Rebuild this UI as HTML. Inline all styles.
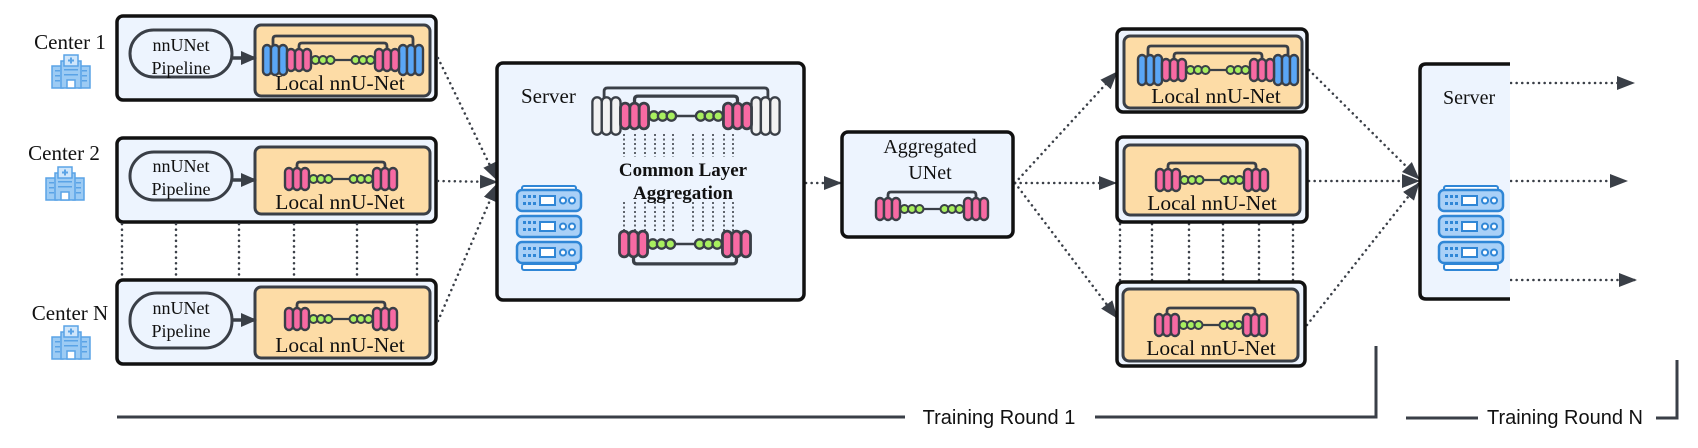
<!DOCTYPE html>
<html><head><meta charset="utf-8"><style>
html,body{margin:0;padding:0;background:#fff;}
svg{display:block}
.sf{font-family:"Liberation Serif",serif;fill:#111;}
.ss{font-family:"Liberation Sans",sans-serif;fill:#111;}
</style></head><body>
<svg width="1698" height="448" viewBox="0 0 1698 448" xmlns="http://www.w3.org/2000/svg">
<defs>
<marker id="ah" viewBox="0 0 18 14" refX="17" refY="7" markerWidth="18" markerHeight="14" markerUnits="userSpaceOnUse" orient="auto">
<path d="M0,0 L18,7 L0,14 Z" fill="#3a3f47"/></marker>
<marker id="ah2" viewBox="0 0 16 14" refX="15" refY="7" markerWidth="16" markerHeight="14" markerUnits="userSpaceOnUse" orient="auto">
<path d="M0,0 L16,7 L0,14 Z" fill="#3a3f47"/></marker>
<g id="core">
<path d="M-44,0 V-14 Q-44,-17 -41,-17 H41 Q44,-17 44,-14 V0" fill="none" stroke="#3a3f47" stroke-width="2.8"/>
<line x1="-30" y1="0" x2="30" y2="0" stroke="#3a3f47" stroke-width="2.2"/>
<g fill="#f76aa3" stroke="#3a3f47" stroke-width="2.4">
<rect x="-56" y="-11" width="8" height="22" rx="4"/><rect x="-48" y="-11" width="8" height="22" rx="4"/><rect x="-40" y="-11" width="8" height="22" rx="4"/>
<rect x="32" y="-11" width="8" height="22" rx="4"/><rect x="40" y="-11" width="8" height="22" rx="4"/><rect x="48" y="-11" width="8" height="22" rx="4"/>
</g>
<g fill="#a8ef5f" stroke="#3a3f47" stroke-width="2">
<circle cx="-27.5" cy="0" r="4"/><circle cx="-20" cy="0" r="4"/><circle cx="-12.5" cy="0" r="4"/>
<circle cx="12.5" cy="0" r="4"/><circle cx="20" cy="0" r="4"/><circle cx="27.5" cy="0" r="4"/>
</g></g>
<g id="full">
<path d="M-70,-12 V-21 Q-70,-24 -67,-24 H67 Q70,-24 70,-21 V-12" fill="none" stroke="#3a3f47" stroke-width="2.8"/>
<g fill="#5aa6f5" stroke="#3a3f47" stroke-width="2.4">
<rect x="-80" y="-15" width="8" height="30" rx="4"/><rect x="-72" y="-15" width="8" height="30" rx="4"/><rect x="-64" y="-15" width="8" height="30" rx="4"/>
<rect x="56" y="-15" width="8" height="30" rx="4"/><rect x="64" y="-15" width="8" height="30" rx="4"/><rect x="72" y="-15" width="8" height="30" rx="4"/>
</g>
<use href="#core"/></g>
<g id="white">
<path d="M-70,-12 V-21 Q-70,-24 -67,-24 H67 Q70,-24 70,-21 V-12" fill="none" stroke="#3a3f47" stroke-width="2.4"/>
<g fill="#f2f2f2" stroke="#3a3f47" stroke-width="2">
<rect x="-80" y="-16" width="8" height="32" rx="4"/><rect x="-72" y="-16" width="8" height="32" rx="4"/><rect x="-64" y="-16" width="8" height="32" rx="4"/>
<rect x="56" y="-16" width="8" height="32" rx="4"/><rect x="64" y="-16" width="8" height="32" rx="4"/><rect x="72" y="-16" width="8" height="32" rx="4"/>
</g>
<use href="#core"/></g>
<g id="unit">
<rect x="0" y="0" width="64" height="21" rx="5" fill="#a9d0f7" stroke="#2f86d6" stroke-width="2.5"/>
<g fill="#2f86d6"><rect x="6" y="5" width="3" height="3"/><rect x="11" y="5" width="3" height="3"/><rect x="16" y="5" width="3" height="3"/>
<rect x="6" y="12" width="3" height="3"/><rect x="11" y="12" width="3" height="3"/><rect x="16" y="12" width="3" height="3"/></g>
<rect x="23" y="6" width="15" height="9" fill="#fff" stroke="#2f86d6" stroke-width="2"/>
<circle cx="46" cy="10.5" r="3" fill="#fff" stroke="#2f86d6" stroke-width="2"/>
<circle cx="55" cy="10.5" r="3" fill="#fff" stroke="#2f86d6" stroke-width="2"/>
</g>
<g id="srv">
<rect x="5" y="-4" width="54" height="6" rx="2" fill="#fff" stroke="#2f86d6" stroke-width="2"/>
<rect x="5" y="74" width="54" height="6" rx="2" fill="#fff" stroke="#2f86d6" stroke-width="2"/>
<use href="#unit" y="0"/><use href="#unit" y="26"/><use href="#unit" y="52"/>
</g>
<g id="hosp">
<rect x="0" y="11" width="11" height="22" fill="#9ccbf4" stroke="#5aa3e6" stroke-width="1.5"/>
<rect x="27" y="11" width="11" height="22" fill="#9ccbf4" stroke="#5aa3e6" stroke-width="1.5"/>
<rect x="9" y="6" width="20" height="27" fill="#9ccbf4" stroke="#5aa3e6" stroke-width="1.5"/>
<rect x="12" y="0" width="14" height="11" fill="#cfe6fb" stroke="#5aa3e6" stroke-width="1.5"/>
<path d="M19,2.5 V8.5 M16,5.5 H22" stroke="#5aa3e6" stroke-width="2"/>
<g fill="#5aa3e6"><rect x="3" y="15" width="5" height="1.5"/><rect x="3" y="20" width="5" height="1.5"/><rect x="3" y="25" width="5" height="1.5"/>
<rect x="30" y="15" width="5" height="1.5"/><rect x="30" y="20" width="5" height="1.5"/><rect x="30" y="25" width="5" height="1.5"/>
<rect x="12" y="14" width="14" height="1.5"/><rect x="12" y="19" width="14" height="1.5"/></g>
<rect x="15" y="25" width="8" height="8" fill="#fff" stroke="#5aa3e6" stroke-width="1.5"/>
</g>
</defs>

<!-- left labels -->
<text class="sf" x="70" y="49" font-size="21" text-anchor="middle">Center 1</text>
<use href="#hosp" x="52" y="55"/>
<text class="sf" x="64" y="160" font-size="21" text-anchor="middle">Center 2</text>
<use href="#hosp" x="46" y="167"/>
<text class="sf" x="70" y="320" font-size="21" text-anchor="middle">Center N</text>
<use href="#hosp" x="52" y="326"/>

<!-- center boxes -->
<g stroke-linejoin="round">
<rect x="117" y="16" width="319" height="84" rx="6" fill="#edf4fe" stroke="#111" stroke-width="3.5"/>
<rect x="255" y="25" width="175" height="71" rx="6" fill="#fddca6" stroke="#3a3f47" stroke-width="3"/>
<rect x="130" y="30" width="102" height="47" rx="23.5" fill="#edf4fe" stroke="#3a3f47" stroke-width="3"/>
<rect x="117" y="138" width="319" height="84" rx="6" fill="#edf4fe" stroke="#111" stroke-width="3.5"/>
<rect x="255" y="147" width="175" height="67" rx="6" fill="#fddca6" stroke="#3a3f47" stroke-width="3"/>
<rect x="130" y="152" width="102" height="48" rx="24" fill="#edf4fe" stroke="#3a3f47" stroke-width="3"/>
<rect x="117" y="280" width="319" height="84" rx="6" fill="#edf4fe" stroke="#111" stroke-width="3.5"/>
<rect x="255" y="287" width="175" height="71" rx="6" fill="#fddca6" stroke="#3a3f47" stroke-width="3"/>
<rect x="130" y="293" width="102" height="55" rx="27" fill="#edf4fe" stroke="#3a3f47" stroke-width="3"/>
</g>
<g stroke="#3a3f47" stroke-width="3.5" marker-end="url(#ah2)">
<line x1="232" y1="58" x2="256" y2="58"/><line x1="232" y1="180" x2="256" y2="180"/><line x1="232" y1="320" x2="256" y2="320"/>
</g>
<g class="sf" font-size="18" text-anchor="middle">
<text x="181" y="51">nnUNet</text><text x="181" y="74">Pipeline</text>
<text x="181" y="172">nnUNet</text><text x="181" y="195">Pipeline</text>
<text x="181" y="314">nnUNet</text><text x="181" y="337">Pipeline</text>
</g>
<use href="#full" transform="translate(343,60)"/>
<use href="#core" transform="translate(341,179)"/>
<use href="#core" transform="translate(341,319)"/>
<g class="sf" font-size="21.5" text-anchor="middle">
<text x="340" y="90">Local nnU-Net</text>
<text x="340" y="209">Local nnU-Net</text>
<text x="340" y="352">Local nnU-Net</text>
</g>

<!-- dotted connectors -->
<g stroke="#3a3f47" stroke-width="2.5" stroke-dasharray="0.1 5.5" stroke-linecap="round" fill="none">
<line x1="122" y1="224" x2="122" y2="279"/><line x1="176" y1="224" x2="176" y2="279"/><line x1="239" y1="224" x2="239" y2="279"/>
<line x1="294" y1="224" x2="294" y2="279"/><line x1="357" y1="224" x2="357" y2="279"/><line x1="417" y1="224" x2="417" y2="279"/>
<line x1="1120" y1="224" x2="1120" y2="281"/><line x1="1152" y1="224" x2="1152" y2="281"/><line x1="1189" y1="224" x2="1189" y2="281"/>
<line x1="1223" y1="224" x2="1223" y2="281"/><line x1="1259" y1="224" x2="1259" y2="281"/><line x1="1293" y1="224" x2="1293" y2="281"/>
</g>
<g stroke="#3a3f47" stroke-width="2.5" stroke-dasharray="0.1 5.5" stroke-linecap="round" fill="none" marker-end="url(#ah)">
<line x1="438" y1="58" x2="497" y2="180"/>
<line x1="438" y1="181" x2="497" y2="182"/>
<line x1="438" y1="321" x2="497" y2="184"/>
<line x1="806" y1="183" x2="841" y2="183"/>
<line x1="1015" y1="183" x2="1117" y2="72"/>
<line x1="1015" y1="183" x2="1116" y2="183"/>
<line x1="1015" y1="183" x2="1117" y2="318"/>
<line x1="1309" y1="70" x2="1419" y2="179"/>
<line x1="1309" y1="181" x2="1419" y2="181"/>
<line x1="1307" y1="325" x2="1419" y2="183"/>
<line x1="1511" y1="83" x2="1634" y2="83"/>
<line x1="1511" y1="181" x2="1627" y2="181"/>
<line x1="1511" y1="280" x2="1636" y2="280"/>
</g>

<!-- Server -->
<rect x="497" y="63" width="307" height="237" rx="6" fill="#edf4fe" stroke="#111" stroke-width="3.5"/>
<text class="sf" x="521" y="103" font-size="21">Server</text>
<use href="#white" transform="translate(686,116) scale(1.17)"/>
<use href="#core" transform="translate(685,244) scale(1.17,-1.17)"/>
<g stroke="#3a3f47" stroke-width="1.6" stroke-dasharray="2 2.5">
<path d="M624,134V157M635,134V157M645,134V157M655,134V157M664,134V157M673,134V157M693,134V157M703,134V157M713,134V157M724,134V157M733,134V157"/>
<path d="M624,202V232M635,202V232M645,202V232M655,202V232M664,202V232M673,202V232M693,202V232M703,202V232M713,202V232M724,202V232M733,202V232"/>
</g>
<g class="sf" font-size="19" font-weight="bold" text-anchor="middle">
<text x="683" y="176">Common Layer</text><text x="683" y="199">Aggregation</text>
</g>
<use href="#srv" x="517" y="190"/>

<!-- Aggregated -->
<rect x="842" y="132" width="171" height="105" rx="6" fill="#edf4fe" stroke="#111" stroke-width="3.5"/>
<g class="sf" font-size="20" text-anchor="middle"><text x="930" y="153">Aggregated</text><text x="930" y="179">UNet</text></g>
<use href="#core" transform="translate(932,209)"/>

<!-- Right boxes -->
<rect x="1117" y="29" width="190" height="83" rx="6" fill="#edf4fe" stroke="#111" stroke-width="3.5"/>
<rect x="1124" y="36" width="178" height="72" rx="6" fill="#fddca6" stroke="#3a3f47" stroke-width="3"/>
<rect x="1117" y="137" width="190" height="85" rx="6" fill="#edf4fe" stroke="#111" stroke-width="3.5"/>
<rect x="1124" y="145" width="176" height="70" rx="6" fill="#fddca6" stroke="#3a3f47" stroke-width="3"/>
<rect x="1117" y="282" width="188" height="84" rx="6" fill="#edf4fe" stroke="#111" stroke-width="3.5"/>
<rect x="1123" y="289" width="175" height="72" rx="6" fill="#fddca6" stroke="#3a3f47" stroke-width="3"/>
<use href="#full" transform="translate(1218,70)"/>
<use href="#core" transform="translate(1212,180)"/>
<use href="#core" transform="translate(1211,325)"/>
<g class="sf" font-size="21.5" text-anchor="middle">
<text x="1216" y="103">Local nnU-Net</text>
<text x="1212" y="210">Local nnU-Net</text>
<text x="1211" y="355">Local nnU-Net</text>
</g>

<!-- Server N -->
<path d="M1510,64 H1426 Q1420,64 1420,70 V293 Q1420,299 1426,299 H1510" fill="#edf4fe" stroke="#111" stroke-width="3.5"/>
<rect x="1490" y="66" width="20" height="231" fill="#edf4fe"/>
<text class="sf" x="1443" y="104" font-size="20">Server</text>
<use href="#srv" x="1439" y="190"/>

<!-- Training rounds -->
<g stroke="#3a3f47" stroke-width="3" fill="none">
<path d="M117,417 H905 M1095,417 H1376 V346"/>
<path d="M1406,418 H1478 M1656,418 H1677 V360"/>
</g>
<text class="ss" x="999" y="424" font-size="20" text-anchor="middle">Training Round 1</text>
<text class="ss" x="1565" y="424" font-size="20" text-anchor="middle">Training Round N</text>
</svg>
</body></html>
